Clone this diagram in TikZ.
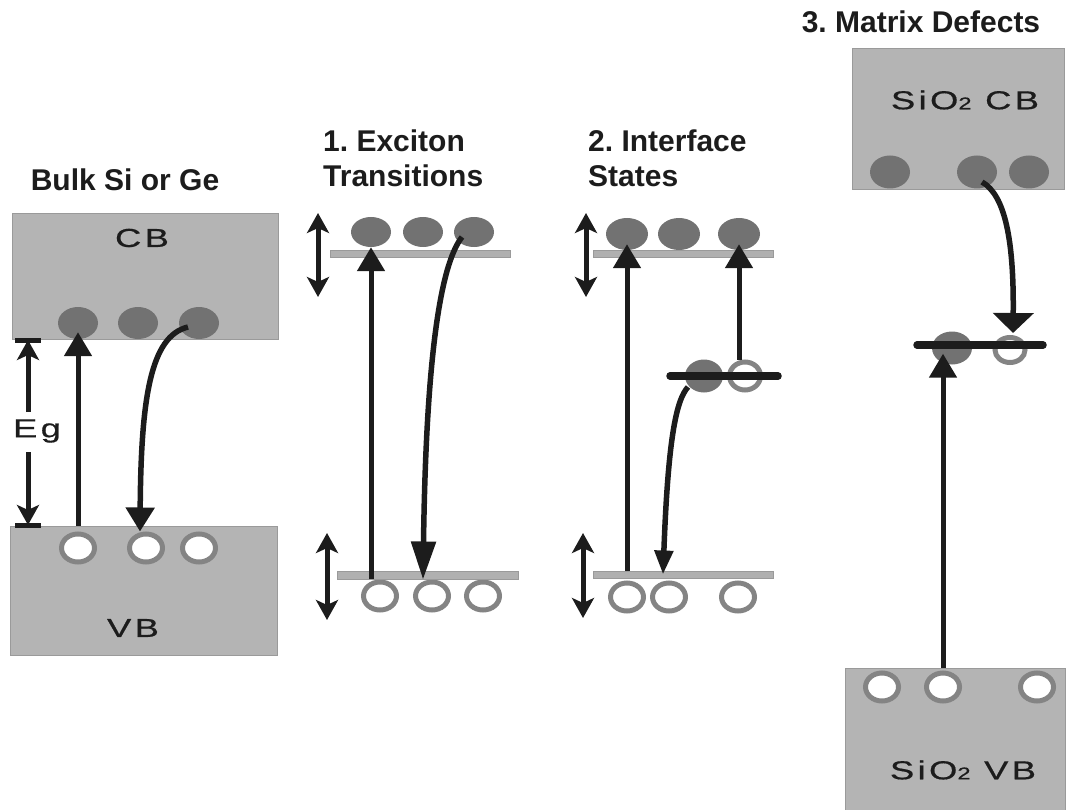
\documentclass[tikz,border=0pt]{standalone}
\usepackage{fontspec}
\setmainfont{Liberation Sans}
\newfontfamily\bandfont[FakeStretch=1.4,LetterSpace=13,FakeBold=0.6]{Liberation Sans}
\usetikzlibrary{arrows.meta,calc,shapes.geometric}

\definecolor{bandgray}{HTML}{B4B4B4}
\definecolor{bandedge}{HTML}{9A9A9A}
\definecolor{elecgray}{HTML}{727272}
\definecolor{holegray}{HTML}{848484}
\definecolor{levelgray}{HTML}{B0B0B0}
\definecolor{ink}{HTML}{1C1C1C}

\frenchspacing
\begin{document}
\begin{tikzpicture}[x=1pt,y=-1pt,
  band/.style={draw=bandedge, line width=0.8pt, fill=bandgray, inner sep=0pt},
  bandlabel/.style={font=\bandfont\fontsize{26}{26}\selectfont, text=ink, inner sep=0pt},
  title/.style={font=\bfseries\fontsize{30}{35}\selectfont, text=ink, align=left, inner sep=0pt},
  elec/.style={ellipse, fill=elecgray, minimum width=40pt, minimum height=32pt, inner sep=0pt},
  hole/.style={ellipse, draw=holegray, line width=5pt, fill=white, minimum width=33pt, minimum height=28pt, inner sep=0pt},
  level/.style={rectangle, fill=levelgray, draw=bandedge, line width=0.6pt, minimum height=7pt, inner sep=0pt},
  trap/.style={line width=7.5pt, line cap=round, draw=ink},
  tick/.style={line width=5pt, draw=ink},
  trans/.style={line width=5pt, draw=ink, -{Triangle[width=27pt,length=24pt]}},
  curve/.style={line width=5.5pt, draw=ink},
  gaparrow/.style={line width=5pt, draw=ink, -{Stealth[width=22pt,length=20pt,inset=5pt]}},
  spread/.style={line width=5pt, draw=ink, {Stealth[width=22pt,length=20pt,inset=5pt]}-{Stealth[width=22pt,length=20pt,inset=5pt]}},
]
\useasboundingbox (0,0) rectangle (1067,810);

% ---------------- Bulk Si or Ge ----------------
\node[title] (t0) at (125,180) {Bulk Si or Ge};
\node[band, minimum width=266pt, minimum height=126pt] (cb0) at (145,276) {};
\node[bandlabel] (cbl0) at (142,238) {CB};
\node[elec] (e01) at (78,323) {};
\node[elec] (e02) at (138,323) {};
\node[elec] (e03) at (199,323) {};
\node[band, minimum width=267pt, minimum height=129pt] (vb0) at (143.5,590.5) {};
\node[bandlabel] (vbl0) at (133,628) {VB};
\node[hole] (h01) at (78,548) {};
\node[hole] (h02) at (146,548) {};
\node[hole] (h03) at (199,548) {};

% band gap marker
\coordinate (egt) at (28,340);
\coordinate (egb) at (28,525);
\coordinate (ega) at (28,412);
\coordinate (egc) at (28,452);
\draw[tick] ($(egt)+(-13,0)$) -- ($(egt)+(13,0)$);
\draw[tick] ($(egb)+(-13,0)$) -- ($(egb)+(13,0)$);
\node[bandlabel] (eg) at (37,431) {Eg};
\draw[gaparrow] (ega) -- (egt);
\draw[gaparrow] (egc) -- (egb);

\draw[trans] (vb0.north -| h01) -- ($(e01.south)+(0,-7)$);
\draw[curve, -{Triangle[width=28pt,length=24pt]}] ($(e03)+(-11,4)$)
  .. controls (150,336) and (141,400) .. ($(h02.north)+(-6,0)$);

% ---------------- 1. Exciton transitions ----------------
\node[title, anchor=north west] (t1) at (323,130) {1. Exciton\\Transitions};
\node[elec, minimum height=30pt] (e11) at (371,232) {};
\node[elec, minimum height=30pt] (e12) at (423,232) {};
\node[elec, minimum height=30pt] (e13) at (474,232) {};
\node[level, minimum width=180pt] (l1t) at (420,253.5) {};
\node[hole] (h11) at (380,596) {};
\node[hole] (h12) at (432,596) {};
\node[hole] (h13) at (483,596) {};
\node[level, minimum width=181pt, minimum height=8pt] (l1b) at (427.5,575) {};

\coordinate (s1a) at (318,213);
\coordinate (s1b) at (318,297);
\coordinate (s1c) at (327,533);
\coordinate (s1d) at (327,620);
\draw[spread] (s1a) -- (s1b);
\draw[spread] (s1c) -- (s1d);

\draw[trans] (l1b.south -| e11) -- (e11.south);
\draw[curve, -{Triangle[width=24pt,length=38pt]}] ($(e13)+(-12,5)$)
  .. controls (440,265) and (426,360) .. ($(h12.north)+(-9,0)$);

% ---------------- 2. Interface states ----------------
\node[title, anchor=north west] (t2) at (588,130) {2. Interface\\States};
\node[elec, minimum width=42pt] (e21) at (627,234) {};
\node[elec, minimum width=42pt] (e22) at (679,234) {};
\node[elec, minimum width=42pt] (e23) at (739,234) {};
\node[level, minimum width=180pt] (l2t) at (683,254) {};
\node[hole] (h21) at (627,597) {};
\node[hole] (h22) at (669,597) {};
\node[hole] (h23) at (738,597) {};
\node[level, minimum width=180pt] (l2b) at (683,574.5) {};

\coordinate (s2a) at (586,213);
\coordinate (s2b) at (586,297);
\coordinate (s2c) at (583,533);
\coordinate (s2d) at (583,618);
\draw[spread] (s2a) -- (s2b);
\draw[spread] (s2c) -- (s2d);

% interface trap level
\node[elec, minimum width=38pt, minimum height=33pt] (e24) at (704,376) {};
\node[hole, minimum width=31pt, minimum height=28pt] (h24) at (745,376) {};
\coordinate (tr2a) at (670,376);
\coordinate (tr2b) at (778,376);
\draw[trap] (tr2a) -- (tr2b);

\draw[trans] (l2b.north -| e21) -- ($(e21.south)+(0,-6)$);
\draw[trans] (h24.north -| e23) -- ($(e23.south)+(0,-6)$);
\draw[curve, -{Triangle[width=18pt,length=24pt]}] ($(e24)+(-16,11)$)
  .. controls (676,400) and (668,440) .. ($(l2b.center -| h22)+(-6,0)$);

% ---------------- 3. Matrix defects ----------------
\node[title] (t3) at (921,22) {3. Matrix Defects};
\node[band, minimum width=212pt, minimum height=141pt] (cb3) at (958,118.5) {};
\node[bandlabel] (cbl3) at (965,100) {SiO{\fontsize{17}{17}\selectfont 2} CB};
\node[elec, minimum height=33pt] (e31) at (890,172) {};
\node[elec, minimum height=33pt] (e32) at (977,172) {};
\node[elec, minimum height=33pt] (e33) at (1029,172) {};

\node[band, minimum width=220pt, minimum height=142pt] (vb3) at (955,739) {};
\node[bandlabel] (vbl3) at (963,770) {SiO{\fontsize{17}{17}\selectfont 2} VB};
\node[hole] (h31) at (882,687) {};
\node[hole] (h32) at (943,687) {};
\node[hole] (h33) at (1037,687) {};

% defect level in the oxide
\node[elec, minimum height=33pt] (e34) at (952,348) {};
\node[hole, minimum width=30pt, minimum height=25pt] (h34) at (1010,350) {};
\coordinate (tr3a) at (917,345);
\coordinate (tr3b) at (1043,345);
\draw[trap] (tr3a) -- (tr3b);

\draw[curve, -{Triangle[width=40pt,length=20pt]}] ($(e32)+(5,10)$)
  .. controls (1005,195) and (1014,240) .. ($(h34.north)+(3,-2)$);
\draw[trans] (vb3.north -| h32) -- ($(h32 |- e34.south)+(0,-11)$);
\end{tikzpicture}
\end{document}
